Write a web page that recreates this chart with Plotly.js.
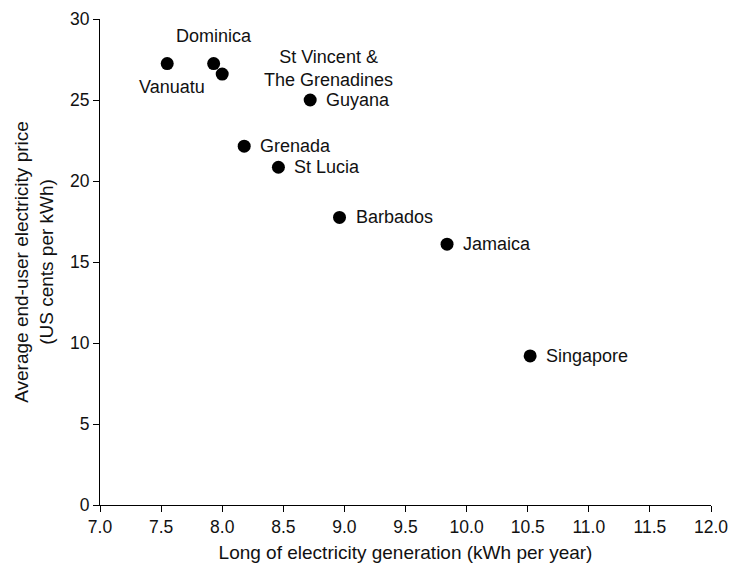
<!DOCTYPE html>
<html>
<head>
<meta charset="utf-8">
<script src="https://cdn.plot.ly/plotly-3.0.1.min.js"></script>
<style>html,body{margin:0;padding:0;background:#fff;}#chart{width:730px;height:563px;}</style>
</head>
<body>
<div id="chart"></div>
<script>
const countries = ["Vanuatu", "Dominica", "St Vincent &<br>The Grenadines", "Guyana", "Grenada", "St Lucia", "Barbados", "Jamaica", "Singapore"];
const logGeneration = [7.55, 7.93, 8.0, 8.72, 8.18, 8.46, 8.96, 9.84, 10.52];
const price = [27.25, 27.25, 26.6, 25.0, 22.15, 20.85, 17.75, 16.1, 9.2];
const xTicks = [7.0, 7.5, 8.0, 8.5, 9.0, 9.5, 10.0, 10.5, 11.0, 11.5, 12.0];
const yTicks = [0, 5, 10, 15, 20, 25, 30];

// label placement (style, not data)
const labelAnchor = ["center", "center", "center", "left", "left", "left", "left", "left", "left"];
const labelXShift = [5, 0, 106, 14, 14, 14, 14, 14, 14];
const labelYShift = [-23, 28, 6, 0, 0, 0, 0, 0, 0];

const FONT = "Liberation Sans, Arial, sans-serif";
const annotations = countries.map((c, i) => ({
  x: logGeneration[i], y: price[i], xref: "x", yref: "y",
  text: c, showarrow: false,
  xanchor: labelAnchor[i], yanchor: "middle",
  xshift: labelXShift[i], yshift: labelYShift[i],
  font: {family: FONT, size: 18, color: "#111"}
}));

const trace = {
  x: logGeneration, y: price, type: "scatter", mode: "markers",
  marker: {color: "#000", size: 13},
  hoverinfo: "skip"
};

const layout = {
  width: 730, height: 563,
  margin: {l: 100, r: 19, t: 19, b: 58},
  paper_bgcolor: "#fff", plot_bgcolor: "#fff",
  showlegend: false,
  font: {family: FONT, size: 18, color: "#111"},
  xaxis: {
    range: [7, 12], tickvals: xTicks, ticktext: xTicks.map(v => v.toFixed(1)),
    showgrid: false, zeroline: false, showline: true, linecolor: "#000", linewidth: 1,
    ticks: "outside", ticklen: 6, tickcolor: "#000",
    tickfont: {family: FONT, size: 17.5, color: "#111"},
    title: {text: "Long of electricity generation (kWh per year)", font: {family: FONT, size: 19, color: "#111"}, standoff: 9}
  },
  yaxis: {
    range: [0, 30], tickvals: yTicks,
    showgrid: false, zeroline: false, showline: true, linecolor: "#000", linewidth: 1,
    ticks: "outside", ticklen: 6, tickcolor: "#000",
    tickfont: {family: FONT, size: 17.5, color: "#111"},
    title: {text: "Average end-user electricity price<br>(US cents per kWh)", font: {family: FONT, size: 19, color: "#111"}, standoff: 11}
  },
  annotations: annotations
};

Plotly.newPlot("chart", [trace], layout, {displayModeBar: false, staticPlot: true});
</script>
</body>
</html>
